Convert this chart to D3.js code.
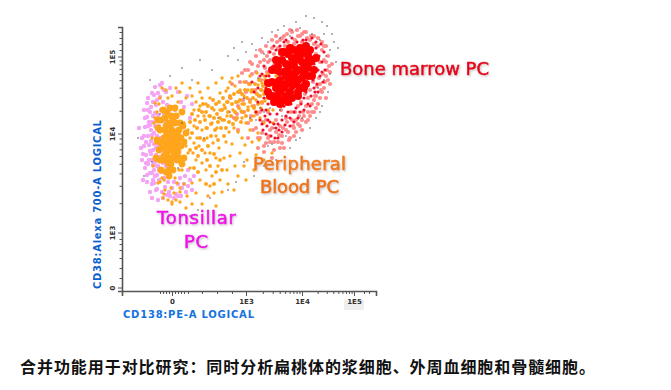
<!DOCTYPE html>
<html>
<head>
<meta charset="utf-8">
<script src="https://cdn.jsdelivr.net/npm/d3@7/dist/d3.min.js"></script>
<style>
body { margin: 0; background: #fff; }
svg { display: block; }
.tick text { font-family: "DejaVu Sans"; font-size: 7px; font-weight: bold; fill: #333; }
.domain, .tick line { stroke: #555; }
</style>
</head>
<body>
<script>
// x and y are in display channels of the logical axes
var xMajor = [0, 74, 130, 182];
var xMajorLabels = ["0", "1E3", "1E4", "1E5"];
var yMajor = [0, 55, 154, 231];
var yMajorLabels = ["0", "1E3", "1E4", "1E5"];

var tonsil = [[-30,150],[-28,142],[-27,161],[-26,133],[-25,171],[-24,152],[-24,124],[-23,143],[-22,163],[-22,115],[-21,181],[-21,134],[-20,153],[-20,104],[-19,172],[-19,123],[-18,144],[-18,193],[-17,162],[-17,112],[-16,133],[-16,183],[-15,152],[-15,99],[-14,173],[-14,122],[-14,142],[-13,162],[-13,108],[-12,191],[-12,131],[-12,150],[-11,178],[-11,116],[-10,141],[-10,167],[-10,96],[-9,125],[-9,158],[-9,186],[-8,110],[-8,135],[-8,174],[-7,147],[-7,101],[-6,122],[-6,165],[-6,196],[-5,93],[-5,139],[-5,183],[-26,146],[-23,128],[-27,120],[-21,158],[-19,138],[-17,126],[-16,168],[-13,118],[-12,203],[-11,128],[-24,178],[-18,105],[-15,188],[-8,198],[-4,106],[-3,96],[0,100],[2,90],[4,94],[6,104],[8,110],[9,92],[12,104],[14,96],[16,118],[18,108],[20,98],[22,112],[3,178],[9,186],[15,192],[-2,200],[6,196],[12,181],[18,170],[20,184],[-22,96],[-20,90],[-14,88],[-30,128],[-33,160],[-28,178],[-24,190],[-17,201],[-10,205],[-29,108],[-25,106],[-12,138],[-7,127],[-15,113],[-20,115],[-23,166],[-29,134],[-31,140],[-28,152],[-26,125],[-25,113],[-24,162],[-22,137],[-21,147],[-20,128],[-20,166],[-19,108],[-18,155],[-18,118],[-17,175],[-16,98],[-16,140],[-15,122],[-14,195],[-27,170],[-25,185],[-22,176],[-19,186],[-20,195],[2,106],[6,92],[10,100],[13,112],[16,102],[-2,92],[-9,90]];

var bloodCore = [[-4,155],[-2,148],[-6,162],[0,158],[-8,150],[-3,142],[2,150],[-5,135],[-7,170],[3,165],[-1,172],[-10,140],[4,140],[-4,125],[0,130],[-9,128],[6,152],[-2,180],[-12,158],[-6,116],[1,118],[5,128],[-3,112],[-11,118],[8,165],[3,180],[-9,178],[-14,168],[9,142],[10,176],[12,130],[14,155],[-13,138],[-15,148],[-14,160],[-16,130],[-12,128],[-12,146],[-11,168],[-8,140],[-7,158],[-6,144],[-5,176],[-2,162],[-1,138],[1,168],[1,144],[3,156],[4,172],[6,136],[7,158],[9,150],[11,162],[12,146],[-3,118],[-1,124],[10,124],[-4,130],[-2,154],[0,140],[-6,152],[-3,165],[2,134],[-8,132],[5,146],[7,130]];

var blood = [[-18,165],[-16,145],[-15,128],[-17,185],[-14,105],[-12,190],[-10,200],[-8,94],[-4,88],[0,84],[4,88],[8,96],[10,118],[12,104],[15,92],[18,120],[20,105],[14,142],[18,150],[21,135],[24,128],[27,142],[22,162],[26,172],[30,158],[33,135],[35,150],[37,172],[24,186],[28,196],[20,192],[14,190],[8,196],[4,200],[34,184],[38,190],[42,178],[45,160],[41,145],[47,140],[50,168],[52,183],[55,172],[57,156],[48,195],[54,197],[59,190],[61,178],[64,168],[66,186],[69,177],[72,192],[74,165],[76,181],[79,196],[82,172],[84,188],[68,198],[63,202],[58,206],[72,206],[86,203],[89,180],[78,158],[70,150],[60,144],[52,130],[46,122],[40,112],[34,118],[28,108],[42,95],[36,92],[48,108],[55,118],[58,132],[63,122],[68,135],[73,143],[80,146],[86,155],[92,165],[95,190],[98,202],[92,212],[85,215],[78,212],[101,178],[106,196],[110,205],[104,212],[30,125],[38,135],[44,152],[32,172],[36,200],[26,205],[18,200],[10,205],[44,205],[50,210],[60,210],[66,212],[24,95],[20,84],[14,80],[8,86],[30,84],[38,102],[44,82],[50,96],[66,112],[72,122],[84,133],[92,128],[100,135],[62,98],[74,108],[56,104],[82,118],[40,165],[48,178],[56,186],[62,160],[70,170],[76,198],[84,195],[90,198],[96,178],[88,170],[96,214],[90,205],[102,190],[80,182],[66,156],[54,146],[44,130],[34,160],[25,150],[16,135],[-20,150],[-19,122],[-12,146],[22,178],[28,182],[12,165],[6,172],[10,150],[16,158],[-10,110],[-15,176],[22,145],[30,190],[56,200],[70,184],[93,187],[101,165],[108,188],[112,182],[75,128],[87,148],[-1,100],[5,105],[-7,98],[2,95],[-4,190],[-6,198],[0,192],[6,186],[-13,184],[-17,170],[-8,108],[3,110],[7,118],[-12,106],[0,86],[8,100],[-9,90]];

// the dense band of blood cells between the two big clusters
var bloodBand = [[18,166],[20,174],[23,168],[25,160],[27,178],[28,166],[30,176],[31,184],[33,168],[34,176],[35,160],[36,182],[38,172],[39,164],[40,180],[41,188],[42,170],[43,158],[44,184],[45,174],[46,166],[47,186],[48,170],[49,160],[50,178],[51,190],[52,168],[53,180],[54,160],[55,186],[56,176],[57,166],[58,192],[59,172],[60,184],[61,164],[62,194],[63,176],[64,186],[65,170],[66,196],[67,180],[68,188],[69,166],[70,194],[71,176],[72,184],[73,198],[74,172],[75,190],[76,178],[77,204],[78,186],[79,168],[80,198],[81,190],[82,180],[83,204],[84,176],[85,194],[86,184],[87,208],[88,192],[89,198],[90,186],[91,202],[92,194],[93,208],[94,198],[96,204],[98,194],[100,208],[28,150],[32,148],[36,142],[39,152],[42,134],[46,148],[48,128],[52,152],[24,140],[20,155],[22,120],[26,116],[30,138],[34,104],[38,122],[44,116],[50,118],[18,138],[26,132],[35,128],[42,104]];

var marrowHalo = [[62,170],[66,182],[68,196],[72,176],[74,206],[76,165],[78,188],[80,214],[81,158],[83,198],[85,174],[86,222],[88,150],[89,208],[90,185],[91,166],[92,228],[93,197],[94,145],[95,216],[96,176],[97,236],[98,158],[99,205],[100,240],[101,186],[102,146],[103,224],[104,168],[105,246],[106,196],[107,153],[108,234],[109,178],[110,250],[111,160],[112,208],[113,242],[114,170],[115,254],[116,190],[117,148],[118,238],[119,176],[120,256],[121,162],[122,194],[123,248],[124,168],[125,258],[126,182],[127,172],[128,252],[129,186],[130,246],[131,176],[132,256],[133,194],[134,182],[135,250],[136,190],[137,240],[138,198],[139,252],[140,184],[141,206],[142,244],[143,192],[144,234],[145,202],[146,250],[147,210],[148,226],[149,198],[150,238],[151,214],[152,228],[153,206],[154,242],[155,218],[156,232],[157,222],[84,232],[78,226],[70,215],[94,242],[88,238],[104,252],[92,136],[100,130],[86,140],[110,145],[122,152],[130,158],[136,168],[142,176],[148,190],[158,204],[160,224],[154,190],[97,152],[108,140],[76,150],[66,158],[58,190],[60,204],[96,226],[87,192],[79,172],[71,188],[115,166],[123,176],[144,180],[73,218],[65,174],[82,182],[84,160],[86,150],[88,176],[90,155],[92,142],[94,168],[96,150],[98,146],[100,160],[102,138],[104,156],[106,146],[108,162],[110,152],[112,140],[114,158],[116,156],[118,150],[120,168],[122,160],[124,156],[126,164],[128,162],[130,168],[132,172],[134,166],[136,176],[138,172],[140,176],[142,188],[144,192],[146,184],[148,204],[150,196],[152,200],[154,212],[156,208],[158,216],[80,224],[84,216],[88,226],[90,236],[93,220],[95,232],[98,228],[100,248],[102,234],[106,240],[108,248],[112,252],[116,246],[118,258],[122,244],[126,252],[130,254],[134,256],[138,248],[142,252],[146,242],[150,246],[152,242],[154,226],[74,196],[70,176],[68,206],[76,218],[78,204]];

var marrow = [[88,168],[90,178],[91,158],[92,190],[93,172],[94,200],[95,162],[96,184],[97,212],[98,174],[99,152],[100,194],[101,222],[102,164],[103,184],[104,206],[105,174],[106,228],[107,158],[108,192],[109,216],[110,168],[111,234],[112,182],[113,204],[114,172],[115,238],[116,196],[117,222],[118,162],[119,184],[120,242],[121,208],[122,176],[123,230],[124,194],[125,246],[126,170],[127,216],[128,238],[129,184],[130,204],[131,248],[132,178],[133,226],[134,196],[135,242],[136,184],[137,214],[138,234],[139,192],[140,250],[141,208],[142,224],[143,196],[144,240],[145,204],[146,218],[147,232],[148,212],[149,244],[150,226],[151,206],[152,236],[153,218],[110,156],[100,204],[94,178],[86,186],[84,176],[82,196],[80,206],[90,214],[104,238],[112,246],[120,250],[135,206],[140,228],[128,176],[122,166],[116,176],[106,164],[96,168],[103,150],[113,163],[86,200],[88,212],[92,222],[94,212],[98,236],[102,242],[106,150],[118,170],[124,180],[132,190],[138,182],[142,200],[146,196],[150,216],[108,242],[114,248],[126,238],[134,248],[144,246],[98,166],[104,160],[90,164],[94,154]];

var marrowCore = [[118,223],[112,216],[124,228],[108,208],[128,232],[104,200],[132,236],[100,192],[136,232],[120,212],[126,218],[114,204],[108,196],[132,224],[136,220],[140,228],[116,234],[110,228],[122,238],[104,218],[128,240],[100,206],[118,196],[124,204],[112,188],[130,210],[138,238],[134,242],[142,218],[126,192],[96,196],[144,230],[106,222],[116,212],[122,222],[130,226],[112,200],[128,200],[136,212],[96,205],[100,218],[104,228],[110,236],[118,240],[140,212],[134,204],[116,186],[106,190],[104,192],[108,216],[114,224],[122,214],[106,206],[112,236],[138,226],[132,214],[120,202],[126,208],[102,186],[98,192],[110,202],[116,218],[124,216],[130,218],[136,226],[126,196],[132,200],[120,190],[114,192],[108,184],[120,230],[126,234],[118,206],[114,212]];

var sparse = [[56,232],[62,240],[70,246],[106,258],[112,262],[124,266],[134,272],[142,270],[150,266],[155,262],[162,246],[166,240],[160,254],[158,214],[156,196],[150,182],[144,170],[138,160],[128,150],[118,140],[104,128],[92,122],[82,112],[72,126],[64,106],[56,98],[38,90],[26,78],[18,72],[-2,212],[10,220],[-22,208],[-28,112],[-34,150],[-20,126],[6,120],[32,150],[46,170],[58,176],[66,228],[74,236],[80,244],[90,250],[100,256],[118,252],[128,260],[140,254],[148,248],[154,232],[146,200],[130,170],[114,152],[96,142],[20,208],[40,218],[28,228],[-12,174],[10,165],[84,238],[96,246],[108,250],[120,258],[136,244],[152,254],[158,238],[164,226],[152,208],[148,176],[124,148],[100,144],[110,172],[84,168],[92,176],[98,180],[88,180],[78,170],[72,190],[86,210],[92,234],[102,160],[108,178]];

var width = 671, height = 390;

var x = d3.scaleLinear().domain([-50, 204]).range([122, 376]);
var y = d3.scaleLinear().domain([-3, 261]).range([291, 27]);

var svg = d3.select("body").append("svg")
    .attr("width", width)
    .attr("height", height);

var defs = svg.append("defs");
defs.append("filter").attr("id", "soft")
  .append("feGaussianBlur").attr("stdDeviation", 0.5);
var glow = defs.append("filter").attr("id", "glow")
    .attr("x", "-10%").attr("y", "-20%").attr("width", "120%").attr("height", "150%");
glow.append("feDropShadow").attr("dx", 1).attr("dy", 1.2)
    .attr("stdDeviation", 0.8).attr("flood-color", "#888").attr("flood-opacity", 0.5);

// grey patch behind the last x label
svg.append("rect").attr("x", 344).attr("y", 300).attr("width", 20).attr("height", 10).attr("fill", "#eee");

function dots(data, color, r) {
  svg.append("g").attr("filter", "url(#soft)")
    .selectAll("circle").data(data).enter().append("circle")
      .attr("cx", function(d) { return x(d[0]); })
      .attr("cy", function(d) { return y(d[1]); })
      .attr("r", r)
      .style("fill", color);
}

dots(tonsil, "#f4a4f4", 2.2);
dots(marrowHalo, "#ff8c8c", 2.1);
dots(blood, "#ffa51f", 1.7);
dots(bloodBand, "#ffa51f", 2);
dots(bloodCore, "#ffa51f", 3.4);
dots(marrow, "#f2102a", 1.6);
dots(marrowCore, "#ff0000", 4);
dots(sparse, "#5a4a55", 0.8);

// minor ticks, one log spacing per decade
var logSteps = [2, 3, 4, 5, 6, 7, 8, 9].map(function(k) { return Math.log10(k); });
function minors(major) {
  var out = [];
  for (var i = 1; i < major.length - 1; i++) {
    logSteps.forEach(function(s) { out.push(major[i] + s * (major[i + 1] - major[i])); });
  }
  return out;
}
var xMinor = minors(xMajor).concat([-12, -9, -6, -3, 3, 6, 9, 12, 16, 30, 45, 60, 192, 197]);
var yMinor = minors(yMajor).concat([10, 20, 30, 38, 44, 49, 238, 244, 250, 256]);

var xAxis = svg.append("g").attr("transform", "translate(0,291)");
xAxis.call(d3.axisBottom(x).tickValues(xMajor)
    .tickFormat(function(d, i) { return xMajorLabels[i]; }).tickSize(5).tickPadding(3));
svg.append("g").attr("transform", "translate(0,291)")
    .call(d3.axisBottom(x).tickValues(xMinor).tickFormat("").tickSize(3))
    .select(".domain").remove();
xAxis.select(".domain").attr("stroke-width", 1.6);

var yAxis = svg.append("g").attr("transform", "translate(122,0)");
yAxis.call(d3.axisLeft(y).tickValues(yMajor)
    .tickFormat(function(d, i) { return yMajorLabels[i]; }).tickSize(4).tickPadding(3));
svg.append("g").attr("transform", "translate(122,0)")
    .call(d3.axisLeft(y).tickValues(yMinor).tickFormat("").tickSize(2.5))
    .select(".domain").remove();
yAxis.select(".domain").attr("stroke-width", 1.6);
yAxis.selectAll(".tick text")
    .attr("text-anchor", "middle")
    .attr("dy", 0)
    .attr("transform", function(d) { return "rotate(-90," + (-9) + "," + y(d) + ")"; })
    .attr("x", -9)
    .attr("y", function(d) { return y(d) + 2; });
yAxis.selectAll(".tick").attr("transform", "translate(0,0)");
yAxis.selectAll(".tick line").attr("y1", function(d) { return y(d); }).attr("y2", function(d) { return y(d); });

// axis titles
svg.append("text").attr("x", 123).attr("y", 318)
    .attr("textLength", 131).attr("lengthAdjust", "spacing")
    .style("font-family", "DejaVu Sans").style("font-weight", "bold").style("font-size", "10px")
    .style("fill", "#1573e0").text("CD138:PE-A LOGICAL");
svg.append("text").attr("transform", "translate(101,289) rotate(-90)")
    .attr("textLength", 169).attr("lengthAdjust", "spacing")
    .style("font-family", "DejaVu Sans").style("font-weight", "bold").style("font-size", "10px")
    .style("fill", "#0b5fd0").text("CD38:Alexa 700-A LOGICAL");

// population labels
var popNames = ["Bone marrow PC", "Peripheral", "Blood PC", "Tonsillar", "PC"];
var popX = [340, 253, 260, 157, 184];
var popY = [75, 170, 193, 224, 248];
var popW = [149, 93, 79, 79, 24];
var popC = ["#e6001e", "#f27a18", "#ee7414", "#f010e8", "#f010e8"];
svg.selectAll(".pop").data(popNames).enter().append("text")
    .attr("class", "pop")
    .attr("x", function(d, i) { return popX[i]; })
    .attr("y", function(d, i) { return popY[i]; })
    .attr("textLength", function(d, i) { return popW[i]; })
    .attr("filter", "url(#glow)")
    .style("font-family", "DejaVu Sans").style("font-size", "18px")
    .style("fill", function(d, i) { return popC[i]; })
    .style("stroke", function(d, i) { return popC[i]; })
    .style("stroke-width", 0.6)
    .text(function(d) { return d; });

// caption
svg.append("text").attr("x", 20).attr("y", 373)
    .attr("textLength", 575)
    .style("font-family", "Noto Sans CJK SC").style("font-size", "16px").style("font-weight", "bold")
    .style("fill", "#111")
    .text("合并功能用于对比研究：同时分析扁桃体的浆细胞、外周血细胞和骨髓细胞。");
</script>
</body>
</html>
